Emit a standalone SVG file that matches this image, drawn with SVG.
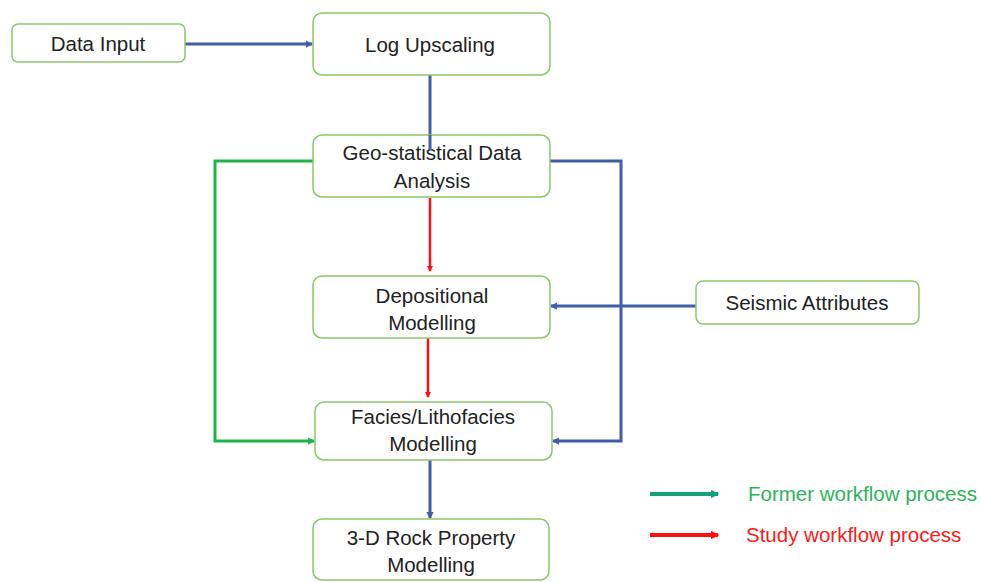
<svg xmlns="http://www.w3.org/2000/svg" width="982" height="582" viewBox="0 0 982 582">
<style>
.box{fill:#fff;stroke:#8cc66b;stroke-width:1.5}
.t{font-family:"Liberation Sans",Arial,sans-serif;font-size:20.5px;fill:#222;text-anchor:middle}
.b{stroke:#3f5fa8;stroke-width:3;fill:none}
.g{stroke:#1db548;stroke-width:3;fill:none}
.r{stroke:#ff1010;stroke-width:2.5;fill:none}
</style>
<defs>
<marker id="ab" viewBox="0 0 6 6" refX="5" refY="3" markerWidth="2.5" markerHeight="2.5" orient="auto"><path d="M0,0L6,3L0,6z" fill="#3f5fa8"/></marker>
<marker id="ag" viewBox="0 0 6 6" refX="5" refY="3" markerWidth="2.5" markerHeight="2.5" orient="auto"><path d="M0,0L6,3L0,6z" fill="#1db548"/></marker>
<marker id="ar" viewBox="0 0 6 6" refX="5" refY="3" markerWidth="2.5" markerHeight="2.5" orient="auto"><path d="M0,0L6,3L0,6z" fill="#ff1010"/></marker>
<marker id="at" viewBox="0 0 6 6" refX="5" refY="3" markerWidth="2.2" markerHeight="2.2" orient="auto"><path d="M0,0L6,3L0,6z" fill="#17a07c"/></marker>
<marker id="ar2" viewBox="0 0 6 6" refX="5" refY="3" markerWidth="2.2" markerHeight="2.2" orient="auto"><path d="M0,0L6,3L0,6z" fill="#ff1010"/></marker>
</defs>
<g id="connectors">
<path class="b" d="M185,44H312" marker-end="url(#ab)"/>
<path class="b" d="M430,75V150"/>
<path class="r" d="M430,198V271" marker-end="url(#ar)"/>
<path class="r" d="M428,338V397" marker-end="url(#ar)"/>
<path class="b" d="M430,460V518" marker-end="url(#ab)"/>
<path class="g" d="M313,161H215V441H314" marker-end="url(#ag)"/>
<path class="b" d="M550,161H621V441H553" marker-end="url(#ab)"/>
<path class="b" d="M696,306H551" marker-end="url(#ab)"/>
<path d="M650,494H718" stroke="#17a07c" stroke-width="4" marker-end="url(#at)"/>
<path d="M650,535H718" stroke="#ff1010" stroke-width="4" marker-end="url(#ar2)"/>
</g>
<g id="data-input"><rect class="box" x="12" y="24" width="173" height="38" rx="6"/><text class="t" x="98" y="51">Data Input</text></g>
<g id="log-upscaling"><rect class="box" x="313" y="13" width="237" height="62" rx="9"/><text class="t" x="430" y="52">Log Upscaling</text></g>
<g id="geo-stat"><rect class="box" x="313" y="135" width="237" height="62" rx="9"/><text class="t" x="432" y="160">Geo-statistical Data</text><text class="t" x="432" y="188">Analysis</text></g>
<path d="M430,135V150" class="b"/>
<g id="depositional"><rect class="box" x="313" y="276" width="237" height="62" rx="9"/><text class="t" x="432" y="303">Depositional</text><text class="t" x="432" y="330">Modelling</text></g>
<g id="facies"><rect class="box" x="315" y="402" width="237" height="58" rx="9"/><text class="t" x="433" y="424">Facies/Lithofacies</text><text class="t" x="433" y="451">Modelling</text></g>
<g id="rock-property"><rect class="box" x="313" y="519" width="236" height="61" rx="9"/><text class="t" x="431" y="545">3-D Rock Property</text><text class="t" x="431" y="572">Modelling</text></g>
<g id="seismic"><rect class="box" x="696" y="281" width="223" height="43" rx="7"/><text class="t" x="807" y="310">Seismic Attributes</text></g>
<g id="legend">
<text x="748" y="501" font-family="'Liberation Sans',Arial,sans-serif" font-size="20.5" fill="#2db45a">Former workflow process</text>
<text x="746" y="542" font-family="'Liberation Sans',Arial,sans-serif" font-size="20.5" fill="#ff1a1a">Study workflow process</text>
</g>
</svg>
